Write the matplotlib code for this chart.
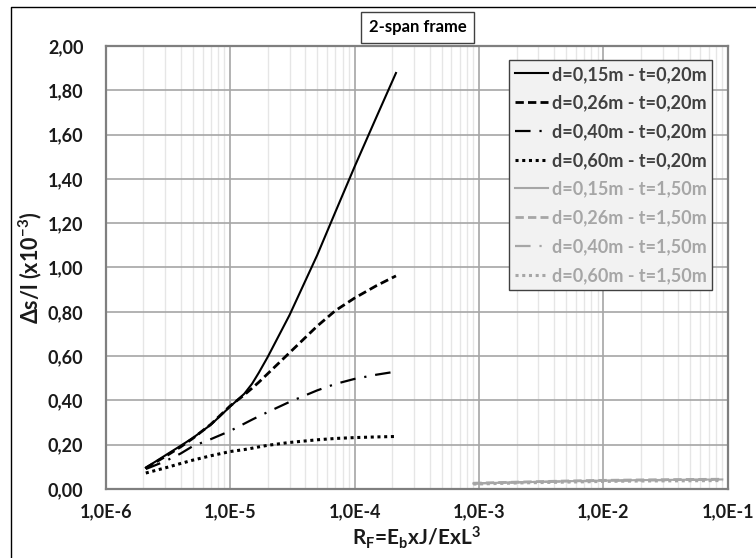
import numpy as np
import matplotlib
matplotlib.use('Agg')
import matplotlib.pyplot as plt
from matplotlib.ticker import FixedLocator, LogLocator, NullFormatter
from matplotlib.lines import Line2D

plt.rcParams['font.family'] = ['Lato', 'DejaVu Sans']
plt.rcParams['font.weight'] = 'bold'
plt.rcParams['axes.labelweight'] = 'bold'
plt.rcParams['mathtext.fontset'] = 'custom'
plt.rcParams['mathtext.rm'] = 'Lato:bold'
plt.rcParams['mathtext.it'] = 'Lato:bold'
plt.rcParams['mathtext.bf'] = 'Lato:bold'

# R_F values for the t=0,20m series
rf_thin = [2.1e-6, 3e-6, 4e-6, 5e-6, 7e-6, 1e-5, 1.3e-5, 1.5e-5, 1.7e-5, 2e-5, 3e-5,
           5e-5, 7e-5, 1e-4, 1.5e-4, 2.15e-4]
d015_t020 = [0.096, 0.151, 0.195, 0.230, 0.290, 0.372, 0.430, 0.475, 0.525, 0.595, 0.785,
             1.055, 1.250, 1.455, 1.680, 1.878]
d026_t020 = [0.095, 0.146, 0.190, 0.228, 0.292, 0.375, 0.425, 0.455, 0.482, 0.520, 0.615,
             0.735, 0.805, 0.862, 0.918, 0.962]
d040_t020 = [0.090, 0.125, 0.160, 0.193, 0.225, 0.262, 0.295, 0.313, 0.328, 0.347, 0.393,
             0.445, 0.474, 0.497, 0.516, 0.530]
d060_t020 = [0.072, 0.095, 0.115, 0.130, 0.150, 0.169, 0.178, 0.184, 0.190, 0.197, 0.210,
             0.222, 0.228, 0.232, 0.235, 0.237]

# R_F values for the t=1,50m series
rf_thick = [9e-4, 2e-3, 5e-3, 1e-2, 2e-2, 5e-2, 9e-2]
d015_t150 = [0.025, 0.030, 0.035, 0.038, 0.040, 0.042, 0.043]
d026_t150 = [0.026, 0.031, 0.036, 0.039, 0.041, 0.043, 0.044]
d040_t150 = [0.025, 0.030, 0.034, 0.037, 0.039, 0.041, 0.042]
d060_t150 = [0.022, 0.027, 0.031, 0.034, 0.036, 0.037, 0.038]

labels = ['d=0,15m - t=0,20m', 'd=0,26m - t=0,20m', 'd=0,40m - t=0,20m', 'd=0,60m - t=0,20m',
          'd=0,15m - t=1,50m', 'd=0,26m - t=1,50m', 'd=0,40m - t=1,50m', 'd=0,60m - t=1,50m']
x_ticks = [1e-6, 1e-5, 1e-4, 1e-3, 1e-2, 1e-1]
x_ticklabels = ['1,0E-6', '1,0E-5', '1,0E-4', '1,0E-3', '1,0E-2', '1,0E-1']
y_ticks = [0.0, 0.2, 0.4, 0.6, 0.8, 1.0, 1.2, 1.4, 1.6, 1.8, 2.0]

styles = [
    dict(ls='-', lw=1.5),
    dict(ls=(0, (3, 1.5)), lw=2.0),
    dict(ls=(0, (7, 4, 1, 4)), lw=1.6),
    dict(ls=(0, (1, 1.2)), lw=2.2),
]

fig = plt.figure(figsize=(7.56, 5.58), dpi=100)
ax = fig.add_axes([0.1398, 0.1237, 0.8231, 0.7939])

thin = [d015_t020, d026_t020, d040_t020, d060_t020]
thick = [d015_t150, d026_t150, d040_t150, d060_t150]
for i, ys in enumerate(thin):
    ax.plot(rf_thin, ys, color='black', label=labels[i], **styles[i])
for i, ys in enumerate(thick):
    ax.plot(rf_thick, ys, color='#a6a6a6', label=labels[i + 4], **styles[i])

ax.set_xscale('log')
ax.set_xlim(1e-6, 1e-1)
ax.set_ylim(0, 2.0)
ax.xaxis.set_major_locator(FixedLocator(x_ticks))
ax.set_xticklabels(x_ticklabels)
ax.xaxis.set_minor_locator(LogLocator(base=10, subs=np.arange(2, 10)))
ax.xaxis.set_minor_formatter(NullFormatter())
ax.set_yticks(y_ticks)
ax.set_yticklabels([f'{v:.2f}'.replace('.', ',') for v in y_ticks])
ax.tick_params(which='both', length=0, labelsize=13, colors='#1a1a1a')
ax.tick_params(axis='x', pad=10)
ax.tick_params(axis='y', pad=16)

ax.grid(True, which='major', color='#a6a6a6', lw=1.2)
ax.grid(True, which='minor', axis='x', color='#e6e6e6', lw=1.0)
ax.set_axisbelow(True)
for s in ax.spines.values():
    s.set_color('#7f7f7f')
    s.set_linewidth(1.6)

ax.set_xlabel('R$_\\mathrm{F}$=E$_\\mathrm{b}$xJ/ExL$^\\mathrm{3}$', fontsize=15, color='#1a1a1a', labelpad=3)
ax.set_ylabel('Δs/l (x10$^{\\mathrm{-3}}$)', fontsize=15.5, color='#1a1a1a', labelpad=3)

leg = ax.legend(loc='upper right', bbox_to_anchor=(0.9748, 0.9684), borderaxespad=0,
                fontsize=13, labelspacing=0.65, handlelength=1.85, handletextpad=0.2,
                borderpad=0.32, fancybox=False, framealpha=1)
leg.get_frame().set_facecolor('#f2f2f2')
leg.get_frame().set_edgecolor('#404040')
leg.get_frame().set_linewidth(1.0)
for i, t in enumerate(leg.get_texts()):
    t.set_color('#404040' if i < 4 else '#a6a6a6')

fig.text(0.5522, 0.9516, '2-span frame', ha='center', va='center', fontsize=12, color='black',
         bbox=dict(boxstyle='square,pad=0.45', fc='white', ec='#404040', lw=1.0))

# outer chart border: only the left and top edges fall inside the image
border_x = [11 / 756, 11 / 756, 1.02]
border_y = [-0.02, 1 - 6.7 / 558, 1 - 6.7 / 558]
fig.add_artist(Line2D(border_x, border_y, transform=fig.transFigure, color='black', lw=1.0))

fig.savefig('out.png', dpi=100)
plt.close(fig)
